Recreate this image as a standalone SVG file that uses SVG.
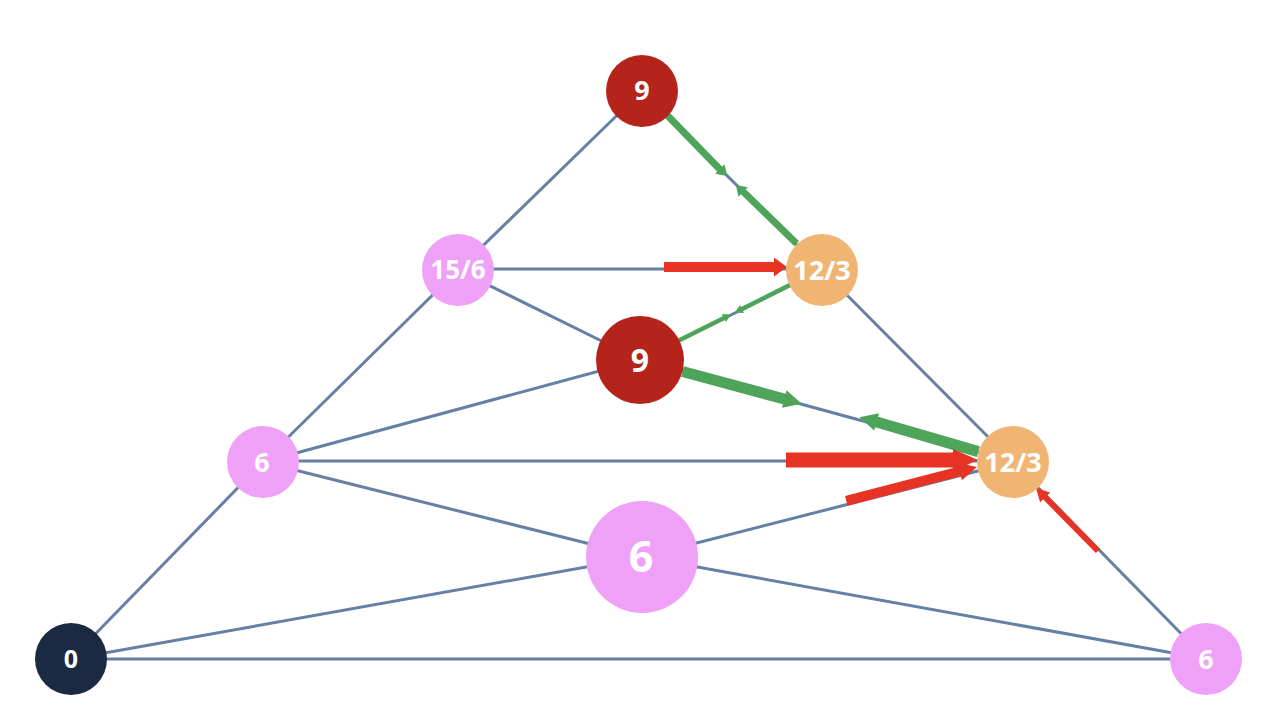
<svg xmlns="http://www.w3.org/2000/svg" width="1278" height="726" viewBox="0 0 1278 726">
<style>
.e{stroke:#6480a4;stroke-width:3;fill:none}
.g{stroke:#4ea55a;fill:none}
.gh{fill:#4ea55a}
.r{stroke:#e63323;fill:none}
.rh{fill:#e63323}
.t{fill:#fff;font-family:"Open Sans","Noto Sans",sans-serif;font-weight:700;text-anchor:middle;dominant-baseline:central}
</style>
<rect width="1278" height="726" fill="#fff"/>
<g id="connectors">
<line class="e" x1="71" y1="659" x2="263" y2="462"/>
<line class="e" x1="263" y1="462" x2="458" y2="270"/>
<line class="e" x1="458" y1="270" x2="642" y2="91"/>
<line class="e" x1="642" y1="91" x2="822" y2="270"/>
<line class="e" x1="822" y1="270" x2="1013" y2="462"/>
<line class="e" x1="1013" y1="462" x2="1206" y2="659"/>
<line class="e" x1="71" y1="659" x2="1206" y2="659"/>
<line class="e" x1="458" y1="269" x2="822" y2="269"/>
<line class="e" x1="458" y1="270" x2="640" y2="360"/>
<line class="e" x1="640" y1="360" x2="822" y2="270"/>
<line class="e" x1="263" y1="462" x2="640" y2="360"/>
<line class="e" x1="640" y1="360" x2="1013" y2="462"/>
<line class="e" x1="263" y1="461" x2="1013" y2="461"/>
<line class="e" x1="263" y1="462" x2="642" y2="557"/>
<line class="e" x1="642" y1="557" x2="1206" y2="659"/>
<line class="e" x1="71" y1="659" x2="642" y2="557"/>
<line class="e" x1="642" y1="557" x2="1013" y2="462"/>
<!-- green A-C -->
<line class="g" stroke-width="7" x1="667" y1="115" x2="721" y2="170.5"/>
<polygon class="gh" points="727,176 715.2,173.7 724.6,164.2"/>
<line class="g" stroke-width="7" x1="796.5" y1="243.6" x2="742" y2="190.5"/>
<polygon class="gh" points="736,185 747.8,187.3 738.4,196.8"/>
<!-- green D-C -->
<line class="g" stroke-width="4.5" x1="679.3" y1="340.3" x2="725" y2="317.5"/>
<polygon class="gh" points="731,314.5 725.9,322.1 721.8,314.1"/>
<line class="g" stroke-width="4.5" x1="789.8" y1="285.1" x2="741" y2="309.5"/>
<polygon class="gh" points="734.8,312.6 744,313 740,305"/>
<!-- green D-F -->
<line class="g" stroke-width="11" x1="682.5" y1="371.5" x2="786" y2="399.5"/>
<polygon class="gh" points="801.7,403.7 782,407.7 786.6,390.3"/>
<line class="g" stroke-width="11" x1="978.3" y1="451.6" x2="875" y2="421.5"/>
<polygon class="gh" points="859.3,417.2 874.3,430.6 879.1,413.2"/>
<!-- red B-C -->
<line class="r" stroke-width="10" x1="664" y1="267" x2="775" y2="267"/>
<polygon class="rh" points="787,267 774,257.5 774,276.5"/>
<!-- red E-F -->
<line class="r" stroke-width="15" x1="786" y1="460" x2="955" y2="460"/>
<polygon class="rh" points="978,460 953,449 953,471"/>
<!-- red G-F -->
<line class="r" stroke-width="10" x1="846.3" y1="500.9" x2="961" y2="471"/>
<polygon class="rh" points="977,467 961.9,480.2 957.3,462.8"/>
<!-- red I-F -->
<line class="r" stroke-width="6" x1="1098" y1="551" x2="1044" y2="496"/>
<polygon class="rh" points="1036,488 1050.1,492.4 1040.1,502.2"/>
</g>
<g id="nA"><circle cx="642" cy="91" r="36" fill="#b5241b"/><text class="t" x="642" y="89" font-size="27">9</text></g>
<g id="nB"><circle cx="458" cy="270" r="36" fill="#eea1f7"/><text class="t" x="458" y="269" font-size="26">15/6</text></g>
<g id="nC"><circle cx="822" cy="270" r="36" fill="#f0b573"/><text class="t" x="822" y="269" font-size="27">12/3</text></g>
<g id="nD"><circle cx="640" cy="360" r="44" fill="#b5241b"/><text class="t" x="640" y="359" font-size="32">9</text></g>
<g id="nE"><circle cx="263" cy="462" r="36" fill="#eea1f7"/><text class="t" x="262" y="461" font-size="27">6</text></g>
<g id="nF"><circle cx="1013" cy="462" r="36" fill="#f0b573"/><text class="t" x="1013" y="461" font-size="27">12/3</text></g>
<g id="nG"><circle cx="642" cy="557" r="56" fill="#eea1f7"/><text class="t" x="641" y="555" font-size="43">6</text></g>
<g id="nH"><circle cx="71" cy="659" r="36" fill="#1b2942"/><text class="t" x="71" y="658" font-size="25">0</text></g>
<g id="nI"><circle cx="1206" cy="659" r="36" fill="#eea1f7"/><text class="t" x="1206" y="658" font-size="27">6</text></g>
</svg>
